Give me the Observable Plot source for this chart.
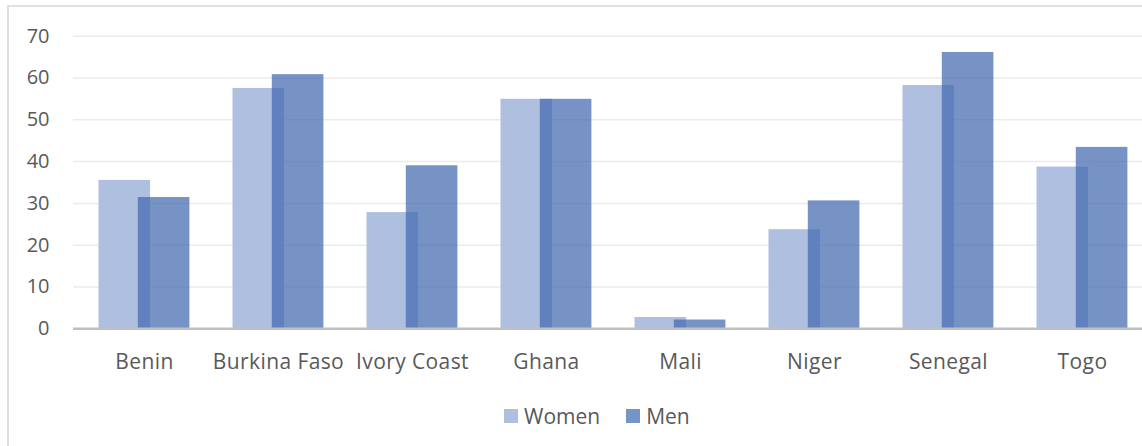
<!DOCTYPE html>
<html>
<head>
<meta charset="utf-8">
<script src="https://cdn.jsdelivr.net/npm/d3@7"></script>
<script src="https://cdn.jsdelivr.net/npm/@observablehq/plot@0.6"></script>
<style>
  html, body { margin: 0; padding: 0; background: #fff; overflow: hidden; width: 1142px; height: 446px; }
  #frame { position: absolute; left: 7px; top: 5px; width: 1200px; height: 500px;
           border-left: 2px solid #e0e0e0; border-top: 2px solid #e0e0e0; }
  #chart { position: absolute; left: 0; top: 0; width: 1160px; }
  #chart g[aria-label="x-axis tick label"] text { letter-spacing: 0.4px; }
  #legend { position: absolute; left: 504px; top: 399px; }
  #legend .lg-swatch { margin-right: 26px; font: 21px "Open Sans", sans-serif; color: #595959; }
  #legend .lg-swatch svg { margin-right: 6px; }
</style>
</head>
<body>
<div id="frame"></div>
<div id="chart"></div>
<div id="legend"></div>
<script>
// Countries along the horizontal axis
const countries = ["Benin", "Burkina Faso", "Ivory Coast", "Ghana", "Mali", "Niger", "Senegal", "Togo"];
// Percentages for each series
const women = [35.5, 57.5, 27.8, 54.9, 2.7, 23.7, 58.2, 38.7];
const men = [31.4, 60.8, 39.0, 54.9, 2.1, 30.6, 66.1, 43.4];
// Value-axis ticks
const yTicks = [0, 10, 20, 30, 40, 50, 60, 70];
const seriesNames = ["Women", "Men"];

const womenRows = countries.map((c, i) => ({country: c, value: women[i]}));
const menRows = countries.map((c, i) => ({country: c, value: men[i]}));

const chart = Plot.plot({
  width: 1160,
  height: 380,
  marginLeft: 73,
  marginRight: 8,
  marginTop: 35.7,
  marginBottom: 51.7,
  style: {fontFamily: "'Open Sans', sans-serif", fontSize: "20px", color: "#595959",
          background: "transparent", overflow: "visible", maxWidth: "none"},
  x: {domain: countries, padding: 0, axis: null},
  y: {domain: [0, 70], axis: null},
  marks: [
    Plot.ruleY(yTicks.filter(t => t > 0), {stroke: "#ebebeb", strokeWidth: 1.5}),
    Plot.barY(womenRows, {x: "country", y: "value", fill: "#afbfe0", insetLeft: 21.5, insetRight: 60.9}),
    Plot.barY(menRows, {x: "country", y: "value", fill: "#426ab0", fillOpacity: 0.72, insetLeft: 60.8, insetRight: 21.6}),
    Plot.ruleY([0], {stroke: "#bfbfbf", strokeWidth: 2.5}),
    Plot.axisY({ticks: yTicks, tickSize: 0, tickPadding: 24, label: null, fontSize: 20}),
    Plot.axisX({tickSize: 0, tickPadding: 25, label: null, fontSize: 21})
  ]
});
document.getElementById("chart").appendChild(chart);

const legend = Plot.legend({
  color: {domain: seriesNames, range: ["#afbfe0", "#7794c6"]},
  swatchSize: 14,
  className: "lg"
});
document.getElementById("legend").appendChild(legend);
</script>
</body>
</html>
